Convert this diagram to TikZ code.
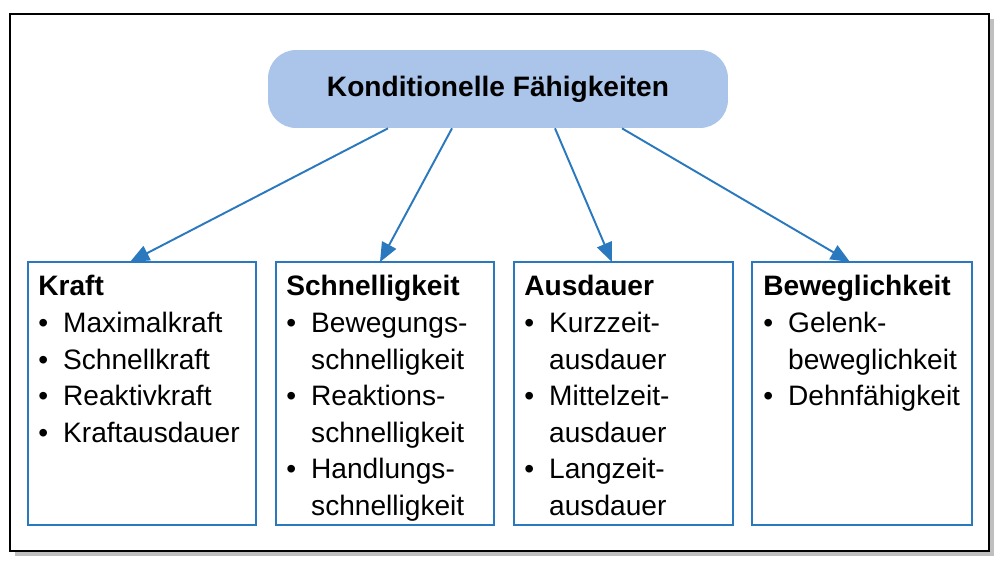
\documentclass[tikz,border=0pt]{standalone}
\usepackage{fontspec}
\setmainfont{Liberation Sans}
\usetikzlibrary{arrows.meta, positioning}
\definecolor{kbblue}{HTML}{2A78BE}
\definecolor{kbfill}{HTML}{AAC5E9}
\newcommand{\fach}[2]{\fontsize{16}{20.8}\selectfont
    \begin{tabular}{@{}l@{\hspace{0.3cm}}l@{}}
        \multicolumn{2}{@{}l@{}}{\textbf{#1}}\\
        #2
    \end{tabular}}

\begin{document}
\begin{tikzpicture}[x=0.02cm, y=-0.02cm,
    kbox/.style={draw=kbblue, line width=0.9pt},
    kpfeil/.style={draw=kbblue, line width=1.1pt, -{Triangle[length=11pt, width=9pt]}}]
                \useasboundingbox (0,0) rectangle (1000,561);
                % frame with shadow
                \fill[black!25] (15,19) rectangle (994,556);
                \draw[fill=white, line width=0.8pt] (10,14) rectangle (989,551);

                % top node
                \node[fill=kbfill, rounded corners=16pt, minimum width=9.2cm, minimum height=1.56cm,
                      font=\fontsize{16}{19}\selectfont\bfseries] (kond) at (498,89) {Konditionelle Fähigkeiten};

                % boxes
                \draw[kbox] (28,262) rectangle (256,525) coordinate (kraftbox);
                \draw[kbox] (276,262) rectangle (494,525);
                \draw[kbox] (514,262) rectangle (733,525);
                \draw[kbox] (752,262) rectangle (972,525);
                \coordinate (kraft) at (130,262);
                \coordinate (schnell) at (380,262);
                \coordinate (ausdauer) at (612,262);
                \coordinate (beweg) at (850,262);

                \node[anchor=north west, inner sep=0pt] (kraftt) at (38,270) {\fach{Kraft}{
                    \textbullet & Maximalkraft\\
                    \textbullet & Schnellkraft\\
                    \textbullet & Reaktivkraft\\
                    \textbullet & Kraftausdauer}};
                \node[anchor=north west, inner sep=0pt] (schnellt) at (286,270) {\fach{Schnelligkeit}{
                    \textbullet & Bewegungs-\\
                                & schnelligkeit\\
                    \textbullet & Reaktions-\\
                                & schnelligkeit\\
                    \textbullet & Handlungs-\\
                                & schnelligkeit}};
                \node[anchor=north west, inner sep=0pt] (ausdauert) at (524,270) {\fach{Ausdauer}{
                    \textbullet & Kurzzeit-\\
                                & ausdauer\\
                    \textbullet & Mittelzeit-\\
                                & ausdauer\\
                    \textbullet & Langzeit-\\
                                & ausdauer}};
                \node[anchor=north west, inner sep=0pt] (bewegt) at (763,270) {\fach{Beweglichkeit}{
                    \textbullet & Gelenk-\\
                                & beweglichkeit\\
                    \textbullet & Dehnfähigkeit}};

                % arrows
                \draw[kpfeil] (kond.south -| 388,0) -- (kraft);
                \draw[kpfeil] (kond.south -| 452,0) -- (schnell);
                \draw[kpfeil] (kond.south -| 555,0) -- (ausdauer);
                \draw[kpfeil] (kond.south -| 622,0) -- (beweg);
\end{tikzpicture}
\end{document}
